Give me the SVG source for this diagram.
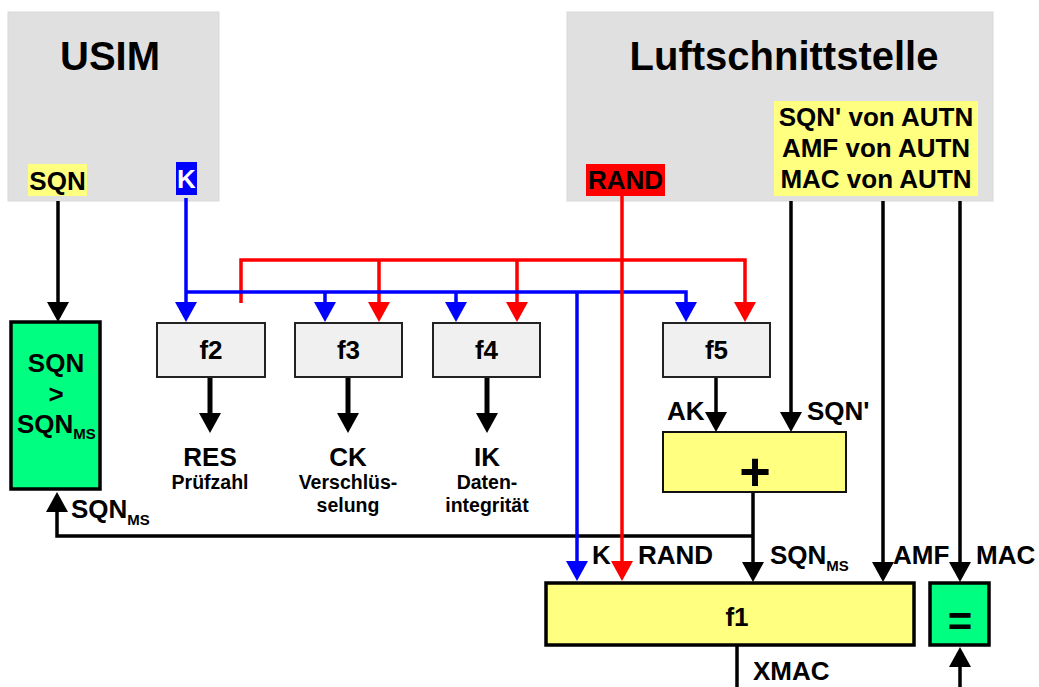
<svg xmlns="http://www.w3.org/2000/svg" width="1039" height="687" viewBox="0 0 1039 687">
<style>
text{font-family:"Liberation Sans",Arial,sans-serif;font-weight:bold;fill:#000}
.title{font-size:40px}
.lbl{font-size:26px}
.sub{font-size:15px}
.small{font-size:19.5px}
.panel{fill:#e0e0e0;stroke:#d8d8d8;stroke-width:1}
.fbox{fill:#f0f0f0;stroke:#222;stroke-width:2}
.ybox{fill:#ffff80;stroke:#111;stroke-width:2}
.ybox2{fill:#ffff80;stroke:#000;stroke-width:3.5}
.gbox{fill:#00ff80;stroke:#000;stroke-width:3.5}
.k{fill:none;stroke:#000;stroke-width:3.5}
.kt{fill:none;stroke:#000;stroke-width:5}
.b{fill:none;stroke:#0000ff;stroke-width:3.5}
.r{fill:none;stroke:#ff0000;stroke-width:3.5}
</style>
<defs>
<marker id="ak" viewBox="0 0 20 22" refX="1" refY="11" markerWidth="20" markerHeight="22" markerUnits="userSpaceOnUse" orient="auto"><path d="M0,0 L20,11 L0,22 z" fill="#000"/></marker>
<marker id="ab" viewBox="0 0 20 22" refX="1" refY="11" markerWidth="20" markerHeight="22" markerUnits="userSpaceOnUse" orient="auto"><path d="M0,0 L20,11 L0,22 z" fill="#0000ff"/></marker>
<marker id="ar" viewBox="0 0 20 22" refX="1" refY="11" markerWidth="20" markerHeight="22" markerUnits="userSpaceOnUse" orient="auto"><path d="M0,0 L20,11 L0,22 z" fill="#ff0000"/></marker>
</defs>

<g id="usim">
<rect class="panel" x="8" y="12" width="211" height="189"/>
<text class="title" x="110" y="70" text-anchor="middle">USIM</text>
<rect x="28" y="164" width="59" height="32" fill="#ffff80"/>
<text class="lbl" x="57.5" y="190" text-anchor="middle">SQN</text>
<rect x="176" y="162" width="21" height="33" fill="#0000ff"/>
<text class="lbl" x="186.5" y="188" text-anchor="middle" style="fill:#fff">K</text>
</g>

<g id="luft">
<rect class="panel" x="567" y="12" width="426" height="189"/>
<text class="title" x="784" y="70" text-anchor="middle">Luftschnittstelle</text>
<rect x="586" y="164" width="79" height="32" fill="#ff0000"/>
<text class="lbl" x="625.5" y="189" text-anchor="middle">RAND</text>
<rect x="774" y="101" width="204" height="95" fill="#ffff80"/>
<text class="lbl" x="876" y="126" text-anchor="middle">SQN' von AUTN</text>
<text class="lbl" x="876" y="157" text-anchor="middle">AMF von AUTN</text>
<text class="lbl" x="876" y="188" text-anchor="middle">MAC von AUTN</text>
</g>

<g id="connectors">
<path class="k" d="M753,536 H57 V511" marker-end="url(#ak)"/>
<path class="k" d="M58,201 V303" marker-end="url(#ak)"/>
<path class="r" d="M241,303 V260 H745 V303" marker-end="url(#ar)"/>
<path class="r" d="M379,260 V303" marker-end="url(#ar)"/>
<path class="r" d="M517,260 V303" marker-end="url(#ar)"/>
<path class="b" d="M186,198 V303" marker-end="url(#ab)"/>
<path class="b" d="M186,292 H686 V303" marker-end="url(#ab)"/>
<path class="b" d="M325,292 V303" marker-end="url(#ab)"/>
<path class="b" d="M456,292 V303" marker-end="url(#ab)"/>
<path class="b" d="M577,292 V562" marker-end="url(#ab)"/>
<path class="r" d="M622,196 V562" marker-end="url(#ar)"/>
<path class="kt" d="M210,377 V414" marker-end="url(#ak)"/>
<path class="kt" d="M348,377 V414" marker-end="url(#ak)"/>
<path class="kt" d="M487,377 V414" marker-end="url(#ak)"/>
<path class="k" d="M716,377 V413" marker-end="url(#ak)"/>
<path class="k" d="M791,201 V413" marker-end="url(#ak)"/>
<path class="k" d="M753,492 V563" marker-end="url(#ak)"/>
<path class="k" d="M883,201 V563" marker-end="url(#ak)"/>
<path class="k" d="M960,201 V563" marker-end="url(#ak)"/>
<path class="k" d="M737,646 V687"/>
<path class="k" d="M960,687 V666" marker-end="url(#ak)"/>
</g>

<g id="cmp">
<rect class="gbox" x="11" y="322" width="89" height="167"/>
<text class="lbl" x="56" y="372" text-anchor="middle">SQN</text>
<text class="lbl" x="56" y="403" text-anchor="middle">&gt;</text>
<text class="lbl" x="17" y="433">SQN<tspan class="sub" dy="6">MS</tspan></text>
</g>
<g id="lbl-sqnms">
<text class="lbl" x="71" y="518">SQN<tspan class="sub" dy="7">MS</tspan></text>
</g>

<g id="f2">
<rect class="fbox" x="157" y="323" width="108" height="54"/>
<text class="lbl" x="211" y="359" text-anchor="middle">f2</text>
</g>
<g id="f3">
<rect class="fbox" x="295" y="323" width="107" height="54"/>
<text class="lbl" x="348.5" y="359" text-anchor="middle">f3</text>
</g>
<g id="f4">
<rect class="fbox" x="433" y="323" width="107" height="54"/>
<text class="lbl" x="486.5" y="359" text-anchor="middle">f4</text>
</g>
<g id="f5">
<rect class="fbox" x="663" y="323" width="107" height="54"/>
<text class="lbl" x="716.5" y="359" text-anchor="middle">f5</text>
</g>

<g id="res">
<text class="lbl" x="210" y="466" text-anchor="middle">RES</text>
<text class="small" x="210" y="489" text-anchor="middle">Prüfzahl</text>
</g>
<g id="ck">
<text class="lbl" x="348" y="466" text-anchor="middle">CK</text>
<text class="small" x="348" y="489" text-anchor="middle">Verschlüs-</text>
<text class="small" x="348" y="512" text-anchor="middle">selung</text>
</g>
<g id="ik">
<text class="lbl" x="487" y="466" text-anchor="middle">IK</text>
<text class="small" x="487" y="489" text-anchor="middle">Daten-</text>
<text class="small" x="487" y="512" text-anchor="middle">integrität</text>
</g>

<g id="plus">
<rect class="ybox" x="663" y="432" width="183" height="60"/>
<text x="755" y="490" text-anchor="middle" style="font-size:54px">+</text>
<text class="lbl" x="667" y="420">AK</text>
<text class="lbl" x="807" y="420">SQN'</text>
</g>

<g id="f1">
<rect class="ybox2" x="546" y="583" width="368" height="62"/>
<text class="lbl" x="737" y="626" text-anchor="middle">f1</text>
<text class="lbl" x="592" y="564">K</text>
<text class="lbl" x="638" y="564">RAND</text>
<text class="lbl" x="770" y="564">SQN<tspan class="sub" dy="7">MS</tspan></text>
<text class="lbl" x="893" y="564">AMF</text>
<text class="lbl" x="753" y="680">XMAC</text>
</g>

<g id="eq">
<rect class="gbox" x="930" y="583" width="59" height="62"/>
<text x="960" y="636" text-anchor="middle" style="font-size:42px">=</text>
<text class="lbl" x="976" y="564">MAC</text>
</g>
</svg>
